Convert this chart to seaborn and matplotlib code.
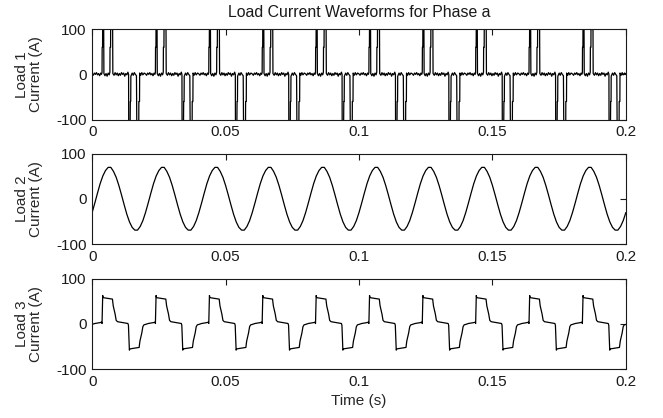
import numpy as np
import pandas as pd
import matplotlib
matplotlib.use("Agg")
import matplotlib.pyplot as plt
import seaborn as sns

# ---- waveform data: one 50 Hz cycle per load (time in ms, current in A) ----
PERIOD_MS = 20.0
N_CYCLES = 10

load1_t = [0.0, 0.4, 0.8, 1.2, 1.6, 2.0, 2.4, 2.8, 3.2, 3.5,
           3.7, 3.75, 3.9, 3.95, 4.3, 4.4, 4.8, 5.2, 5.6, 6.0,
           6.4, 6.65, 6.7, 6.9, 6.95, 7.65, 7.75, 8.2, 8.6, 9.0,
           9.4, 9.8, 10.2, 10.6, 11.0, 11.4, 11.8, 12.2, 12.6, 13.0,
           13.4, 13.65, 13.7, 14.2, 14.3, 14.45, 14.5, 15.0, 15.4, 15.8,
           16.2, 16.6, 16.75, 17.45, 17.5, 17.75, 17.8, 18.2, 18.6, 19.0,
           19.5]
load1_i = [1, -2, 3, 0, 4, -1, 2, -3, 3, 0,
           4, 60, 60, 135, 135, 2, -3, 2, -4, 3,
           -1, 5, 60, 60, 135, 135, 2, -2, 4, -1,
           3, -3, 2, -2, 4, 0, 3, -4, 2, -1,
           5, 0, -135, -135, -60, -60, -4, 3, -2, 4,
           0, -3, -135, -135, -60, -60, 3, -2, 4, -1,
           3]

load2_t = [0, 1, 2, 3, 4, 5, 6, 7, 8, 9,
           10, 11, 12, 13, 14, 15, 16, 17, 18, 19]
load2_i = [-30, -9, 13, 34, 51, 63, 70, 70, 61, 48,
           30, 9, -13, -34, -51, -63, -69, -69, -61, -48]

load3_t = [0.0, 1.0, 2.0, 3.0, 3.5, 3.7, 3.95, 4.1, 4.4, 5.5,
           7.6, 7.9, 8.6, 9.0, 9.5, 10.5, 11.5, 12.5, 13.4, 13.6,
           13.95, 14.1, 14.4, 15.5, 17.6, 17.9, 18.6, 19.0, 19.4]
load3_i = [-1, 1, 2, 3, 4, 1, 63, 59, 58, 57,
           55, 40, 22, 8, 5, 4, 3, 2, 1, -3,
           -58, -56, -55, -54, -52, -38, -20, -6, -2]

x_ticks = [0, 0.05, 0.1, 0.15, 0.2]
x_tick_labels = ["0", "0.05", "0.1", "0.15", "0.2"]
y_ticks = [-100, 0, 100]
y_tick_labels = ["-100", "0", "100"]
panel_labels = ["Load 1\nCurrent (A)", "Load 2\nCurrent (A)", "Load 3\nCurrent (A)"]
title_text = "Load Current Waveforms for Phase a"
x_label = "Time (s)"


def repeat_cycles(t_ms, values):
    """Tile one cycle over the full record and convert ms to s."""
    t = np.concatenate([np.asarray(t_ms, float) + k * PERIOD_MS for k in range(N_CYCLES)]
                       + [[N_CYCLES * PERIOD_MS]])
    v = np.concatenate([np.asarray(values, float)] * N_CYCLES + [[values[0]]])
    return pd.DataFrame({"time": t / 1000.0, "current": v})


frames = [repeat_cycles(load1_t, load1_i),
          repeat_cycles(load2_t, load2_i),
          repeat_cycles(load3_t, load3_i)]

sns.set_style("white")
plt.rcParams["font.family"] = ["Liberation Sans", "DejaVu Sans"]
plt.rcParams["text.color"] = "#1a1a1a"

fig = plt.figure(figsize=(6.63, 4.18), dpi=100)
bottoms = [0.714, 0.416, 0.117]
axes = [fig.add_axes([0.139, b, 0.805, 0.216]) for b in bottoms]

for ax, df, lab in zip(axes, frames, panel_labels):
    sns.lineplot(data=df, x="time", y="current", ax=ax, estimator=None, sort=False,
                 color="black", linewidth=0.9)
    ax.set_xlim(0, 0.2)
    ax.set_ylim(-100, 100)
    ax.set_xticks(x_ticks)
    ax.set_xticklabels(x_tick_labels)
    ax.set_yticks(y_ticks)
    ax.set_yticklabels(y_tick_labels)
    ax.tick_params(direction="in", length=4, width=0.8, top=True, right=True,
                   labelsize=11, pad=4, colors="#1a1a1a")
    for s in ax.spines.values():
        s.set_visible(True)
        s.set_color("#1a1a1a")
        s.set_linewidth(0.8)
    ax.set_xlabel("")
    ax.set_ylabel(lab, fontsize=11, linespacing=1.0)
    ax.yaxis.set_label_coords(-0.092, 0.5)

axes[0].set_title(title_text, fontsize=11.4, pad=9)
axes[2].set_xlabel(x_label, fontsize=11, labelpad=4)

fig.savefig("out.png", dpi=100)
